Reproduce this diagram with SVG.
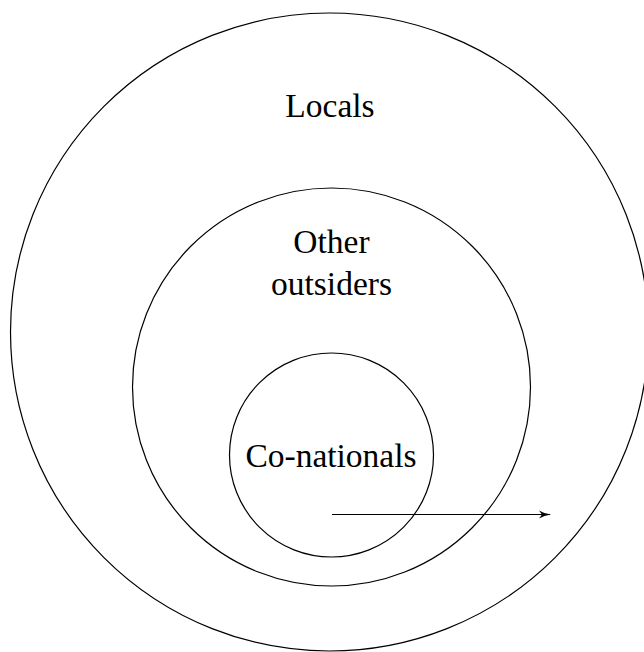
<svg xmlns="http://www.w3.org/2000/svg" width="644" height="652" viewBox="0 0 644 652">
<defs>
<style>
.c{fill:none;stroke:#000;stroke-width:1.2}
.t{font-family:"Liberation Serif","Times New Roman",serif;font-size:33.5px;fill:#000;text-anchor:middle}
</style>
<marker id="ah" viewBox="0 0 12 10" refX="11" refY="5" markerWidth="13" markerHeight="10" markerUnits="userSpaceOnUse" orient="auto">
<path d="M0,1 Q5,4.2 12,5 Q5,5.8 0,9 L3,5 Z" fill="#000"/>
</marker>
</defs>
<rect width="644" height="652" fill="#fff"/>
<g id="locals">
<circle class="c" cx="329.5" cy="332" r="319"/>
<text class="t" x="330" y="117">Locals</text>
</g>
<g id="other-outsiders">
<circle class="c" cx="331.5" cy="387" r="199"/>
<text class="t" x="331.5" y="253">Other</text>
<text class="t" x="331.5" y="295">outsiders</text>
</g>
<g id="co-nationals">
<circle class="c" cx="331.5" cy="455" r="102"/>
<text class="t" x="331" y="467">Co-nationals</text>
</g>
<g id="connectors">
<line x1="332" y1="514.5" x2="550" y2="514.5" stroke="#000" stroke-width="1.2" marker-end="url(#ah)"/>
</g>
</svg>
